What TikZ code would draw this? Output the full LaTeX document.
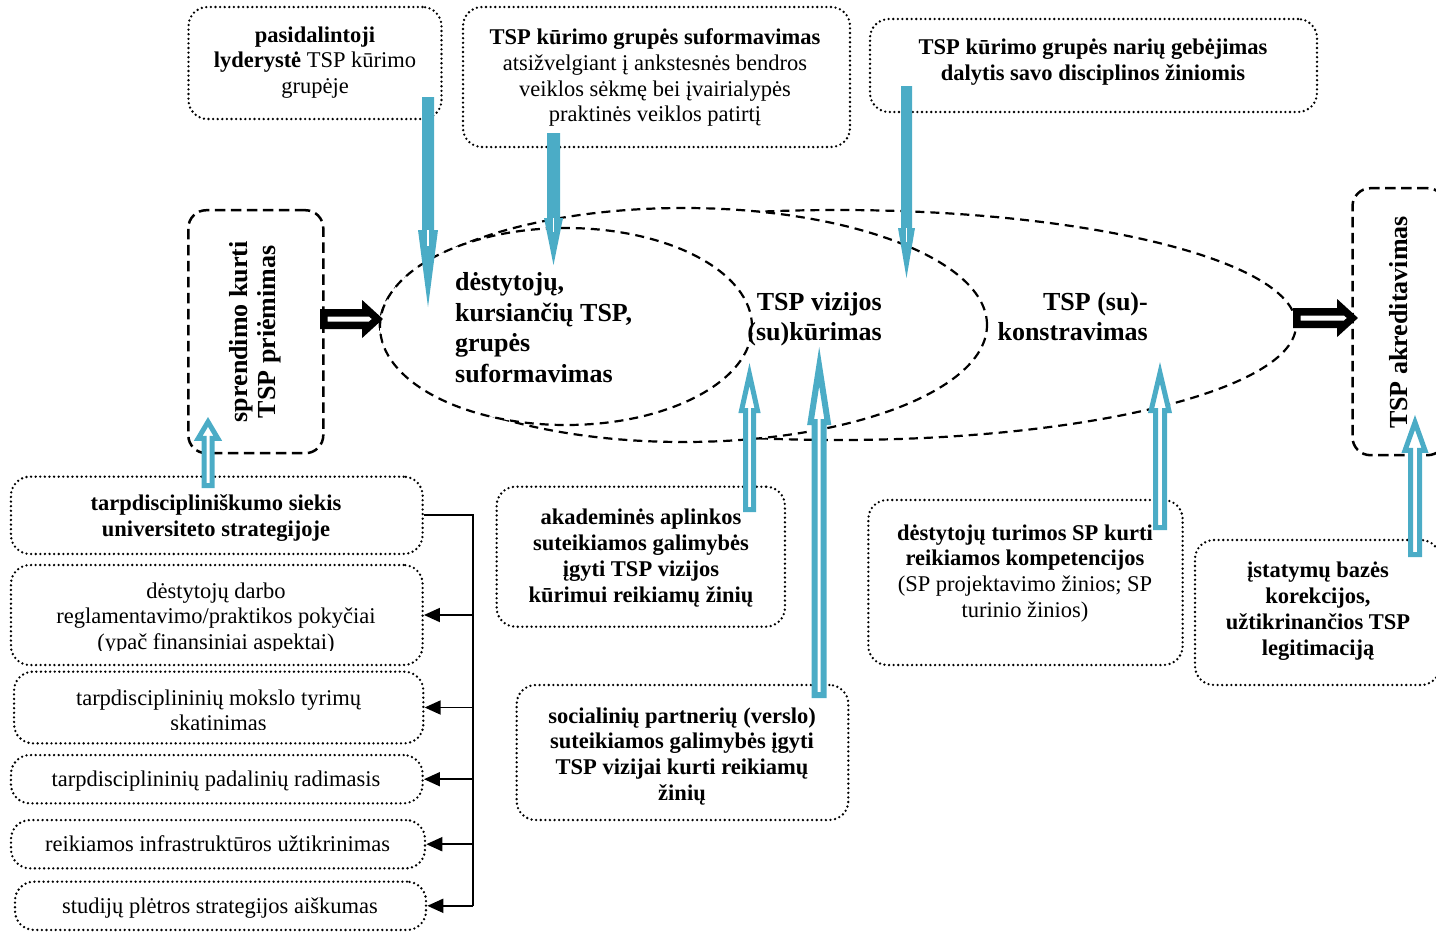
\documentclass[tikz,border=0pt]{standalone}
\usepackage{fontspec}
\setmainfont{Liberation Serif}
\usetikzlibrary{arrows.meta,calc,shapes.geometric}
\definecolor{aqua}{HTML}{4BACC6}
\newcommand{\myboxfont}{\fontsize{22.5}{25.8}\selectfont}
\newcommand{\myellfont}{\fontsize{26}{30.7}\selectfont\bfseries}
\newcommand{\blockarr}[6]{%
  \coordinate (hb) at ($(#3)!#6!(#2)$);
  \path[#1] ($(#2)!#4!90:(#3)$) -- ($(hb)!#4!90:(#3)$) -- ($(hb)!#5!90:(#3)$) -- (#3)
     -- ($(hb)!#5!-90:(#3)$) -- ($(hb)!#4!-90:(#3)$) -- ($(#2)!#4!-90:(#3)$) -- cycle;}
\begin{document}
\begin{tikzpicture}[x=1pt,y=-1pt,
  dotbox/.style={draw, line width=2.6pt, dash pattern=on 0pt off 4.6pt, line cap=round, rounded corners=19pt, inner sep=0pt},
  dashbox/.style={draw, line width=2.5pt, dash pattern=on 10.5pt off 5.5pt, rounded corners=18pt, inner sep=0pt},
  ell/.style={ellipse, draw, fill=white, line width=2.2pt, dash pattern=on 9pt off 6pt, inner sep=0pt},
  txt/.style={font=\myboxfont, align=center, inner sep=0pt, anchor=base},
  btxt/.style={txt, font=\myboxfont\bfseries},
  etxt/.style={font=\myellfont, inner sep=0pt},
  conn/.style={line width=1.8pt},
  arrconn/.style={conn, -{Triangle[length=16pt,width=14pt]}},
  bluefill/.style={fill=aqua},
  notch/.style={white, line width=1.5pt},
  hollow/.style={draw=aqua, fill=white, line width=5pt, line join=miter},
  khollow/.style={draw=black, fill=white, line width=7.5pt, line join=miter}]
\useasboundingbox (0,0) rectangle (1436,935);

% ellipses
\node[ell, minimum width=916pt, minimum height=230pt] (eL) at (838,325) {};
\node[ell, minimum width=607pt, minimum height=234pt] (eM) at (683.5,325) {};
\node[ell, minimum width=372pt, minimum height=197pt] (eS) at (566,326.5) {};

% top boxes
\node[dotbox, minimum width=253pt, minimum height=112pt] (bP1) at (315,63) {};
\node[dotbox, minimum width=387pt, minimum height=140pt] (bP2) at (656.5,77) {};
\node[dotbox, minimum width=447pt, minimum height=93pt] (bP3) at (1093.5,65.5) {};

% dashed boxes
\node[dashbox, minimum width=135pt, minimum height=243pt] (bD1) at (255.8,331.7) {};
\node[dashbox, minimum width=93pt, minimum height=267pt] (bD2) at (1399,321.7) {};

% left column
\node[dotbox, minimum width=411.7pt, minimum height=77.3pt] (bA) at (216.8,515.3) {};
\node[dotbox, minimum width=411.7pt, minimum height=100pt] (bB) at (216.8,615) {};
\node[dotbox, minimum width=409.3pt, minimum height=71.7pt] (bC) at (218.7,707.5) {};
\node[dotbox, minimum width=411.7pt, minimum height=48.3pt] (bD) at (216.8,779.2) {};
\node[dotbox, minimum width=414pt, minimum height=48.3pt] (bE) at (218,844.2) {};
\node[dotbox, minimum width=411pt, minimum height=48.3pt] (bF) at (220.5,905.8) {};

% middle / right boxes
\node[dotbox, minimum width=288.3pt, minimum height=140pt] (bM1) at (640.8,556.7) {};
\node[dotbox, minimum width=331.7pt, minimum height=135pt] (bM2) at (682.5,752.5) {};
\node[dotbox, minimum width=314.3pt, minimum height=165pt] (bR1) at (1025.5,582.5) {};
\node[dotbox, minimum width=245pt, minimum height=145pt] (bR2) at (1317.5,612.5) {};

% left connector
\coordinate (jA) at (473,515.3);
\coordinate (jF) at (473,905.8);
\draw[conn] (bA.east) -- (jA) -- (jF);
\draw[arrconn] (bB.east -| jA) -- (bB.east);
\draw[arrconn] (bC.east -| jA) -- (bC.east);
\draw[arrconn] (bD.east -| jA) -- (bD.east);
\draw[arrconn] (bE.east -| jA) -- (bE.east);
\draw[arrconn] (bF.east -| jA) -- (bF.east);

% black hollow arrows
\coordinate (k1s) at (323.75,319);
\coordinate (k1t) at (377.4,319);
\blockarr{khollow}{k1s}{k1t}{6.25pt}{10.5pt}{11.5pt}
\coordinate (k2s) at (1296.75,318);
\coordinate (k2t) at (1352.4,318);
\blockarr{khollow}{k2s}{k2t}{6.25pt}{10.5pt}{11.5pt}

% solid blue down arrows
\coordinate (d1s) at (428,97);
\coordinate (d1t) at (428,307);
\blockarr{bluefill}{d1s}{d1t}{6pt}{10pt}{77pt}
\draw[notch] ($(d1t)!77pt!(d1s)$) -- ($(d1t)!61pt!(d1s)$);
\coordinate (d2s) at (553.5,133);
\coordinate (d2t) at (553.5,265);
\blockarr{bluefill}{d2s}{d2t}{6.5pt}{9.5pt}{47pt}
\draw[notch] ($(d2t)!47pt!(d2s)$) -- ($(d2t)!33pt!(d2s)$);
\coordinate (d3s) at (906.5,86);
\coordinate (d3t) at (906.5,278);
\blockarr{bluefill}{d3s}{d3t}{5.5pt}{8.5pt}{50pt}
\draw[notch] ($(d3t)!50pt!(d3s)$) -- ($(d3t)!36pt!(d3s)$);

% hollow blue up arrows
\coordinate (u1s) at (208,485.5);
\coordinate (u1t) at (208,421.9);
\blockarr{hollow}{u1s}{u1t}{4pt}{9.8pt}{16.5pt}
\coordinate (u2s) at (749.5,509.5);
\coordinate (u2t) at (749.5,374.5);
\blockarr{hollow}{u2s}{u2t}{4pt}{8pt}{36pt}
\coordinate (u3s) at (819.2,695);
\coordinate (u3t) at (819.2,366.6);
\blockarr{hollow,line width=6pt}{u3s}{u3t}{4.5pt}{8.6pt}{55.6pt}
\coordinate (u4s) at (1160,527.5);
\coordinate (u4t) at (1160,372.9);
\blockarr{hollow}{u4s}{u4t}{4.5pt}{8.9pt}{37.7pt}
\coordinate (u5s) at (1415,554.5);
\coordinate (u5t) at (1415,422.4);
\blockarr{hollow}{u5s}{u5t}{4.5pt}{10pt}{28pt}

% ellipse texts (anchor base = last line)
\node[etxt, align=left, anchor=base west] (t1) at (455,382.4) {dėstytojų,\\kursiančių TSP,\\grupės\\suformavimas};
\node[etxt, align=right, anchor=base east] (t2) at (882,340.7) {TSP vizijos\\(su)kūrimas};
\node[etxt, align=right, anchor=base east] (t3) at (1148,340.7) {TSP (su)-\\konstravimas};

% rotated texts
\node[etxt, align=center, anchor=base, rotate=90, font=\fontsize{26}{28}\selectfont\bfseries] (tD1) at (275,331.7) {sprendimo kurti\\TSP priėmimas};
\node[etxt, anchor=base, rotate=90] (tD2) at (1407,322.5) {TSP akreditavimas};

% box texts (anchor base = last line)
\node[txt] (tP1) at (315,93.6) {\textbf{pasidalintoji}\\\textbf{lyderystė} TSP kūrimo\\grupėje};
\node[txt] (tP2) at (655,121.9) {\textbf{TSP kūrimo grupės suformavimas}\\atsižvelgiant į ankstesnės bendros\\veiklos sėkmę bei įvairialypės\\praktinės veiklos patirtį};
\node[btxt] (tP3) at (1093,80.3) {TSP kūrimo grupės narių gebėjimas\\dalytis savo disciplinos žiniomis};
\node[btxt] (tA) at (216,536.5) {tarpdiscipliniškumo siekis\\universiteto strategijoje};
\begin{scope}
\clip (0,560) rectangle (440,650);
\node[txt] (tB) at (216,649.6) {dėstytojų darbo\\reglamentavimo/praktikos pokyčiai\\(ypač finansiniai aspektai)};
\end{scope}
\begin{scope}
\clip (0,668) rectangle (440,729.5);
\node[txt] (tC) at (218.5,730.8) {tarpdisciplininių mokslo tyrimų\\skatinimas};
\end{scope}
\node[txt] (tD) at (216,786) {tarpdisciplininių padalinių radimasis};
\node[txt] (tE) at (217.5,851.7) {reikiamos infrastruktūros užtikrinimas};
\node[txt] (tF) at (220,913.3) {studijų plėtros strategijos aiškumas};
\node[btxt] (tM1) at (641,602) {akademinės aplinkos\\suteikiamos galimybės\\įgyti TSP vizijos\\kūrimui reikiamų žinių};
\node[btxt] (tM2) at (682,800.5) {socialinių partnerių (verslo)\\suteikiamos galimybės įgyti\\TSP vizijai kurti reikiamų\\žinių};
\node[txt] (tR1) at (1025,617.4) {\textbf{dėstytojų turimos SP kurti}\\\textbf{reikiamos kompetencijos}\\(SP projektavimo žinios; SP\\turinio žinios)};
\node[btxt] (tR2) at (1318,655) {įstatymų bazės\\korekcijos,\\užtikrinančios TSP\\legitimaciją};
\end{tikzpicture}
\end{document}
